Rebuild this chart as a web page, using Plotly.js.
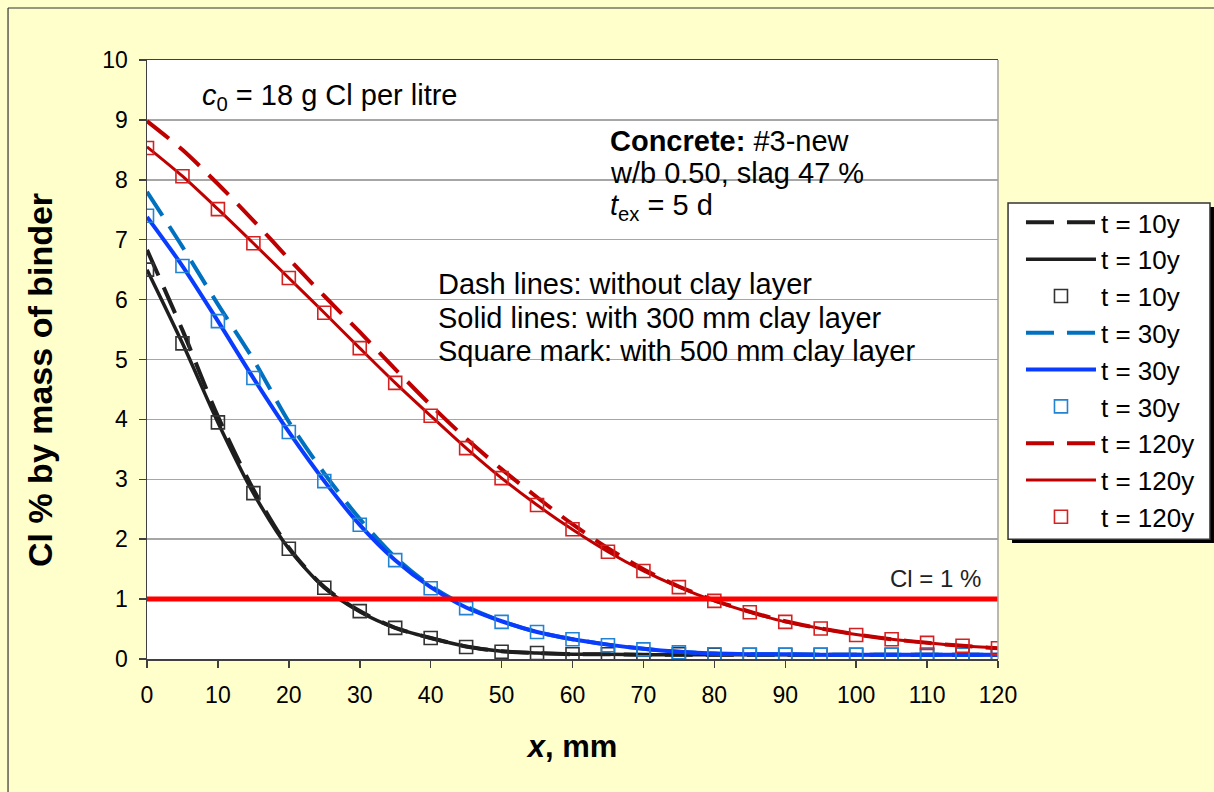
<!DOCTYPE html>
<html>
<head>
<meta charset="utf-8">
<script src="https://cdn.plot.ly/plotly-3.0.1.min.js"></script>
<style>
html,body{margin:0;padding:0;background:#FFFFCC;}
#chart{width:1214px;height:792px;}
</style>
</head>
<body>
<div id="chart"></div>
<script>
// depth x, mm
const depthX = [0,5,10,15,20,25,30,35,40,45,50,55,60,65,70,75,80,85,90,95,100,105,110,115,120];

// t = 10 y
const t10Dash   = [6.83,5.49,4.05,2.83,1.86,1.20,0.80,0.52,0.35,0.21,0.13,0.10,0.08,0.08,0.07,0.07,0.07,0.07,0.07,0.07,0.07,0.07,0.07,0.07,0.07];
const t10Solid  = [6.50,5.27,3.95,2.77,1.84,1.19,0.79,0.52,0.35,0.21,0.13,0.10,0.08,0.08,0.07,0.07,0.07,0.07,0.07,0.07,0.07,0.07,0.07,0.07,0.07];
const t10Square = [6.50,5.27,3.95,2.77,1.84,1.19,0.80,0.52,0.35,0.20,0.12,0.10,0.08,0.08,0.08,0.08,0.07,0.07,0.07,0.07,0.07,0.07,0.07,0.07,0.07];

// t = 30 y
const t30Dash   = [7.80,6.88,5.92,5.00,3.96,3.10,2.34,1.70,1.22,0.88,0.63,0.45,0.33,0.24,0.17,0.12,0.09,0.08,0.08,0.07,0.07,0.07,0.07,0.07,0.07];
const t30Solid  = [7.38,6.56,5.64,4.69,3.79,2.97,2.24,1.65,1.20,0.86,0.63,0.45,0.33,0.24,0.17,0.12,0.09,0.08,0.08,0.07,0.07,0.07,0.07,0.07,0.07];
const t30Square = [7.40,6.56,5.64,4.69,3.79,2.97,2.24,1.65,1.18,0.85,0.62,0.45,0.33,0.23,0.16,0.11,0.08,0.07,0.07,0.07,0.07,0.07,0.07,0.07,0.07];

// t = 120 y
const t120Dash   = [8.98,8.50,7.93,7.32,6.68,6.06,5.46,4.84,4.24,3.68,3.17,2.70,2.25,1.85,1.50,1.21,0.98,0.79,0.63,0.51,0.41,0.33,0.27,0.22,0.18];
const t120Solid  = [8.55,8.06,7.51,6.94,6.36,5.78,5.19,4.61,4.06,3.52,3.02,2.57,2.16,1.79,1.47,1.20,0.97,0.78,0.62,0.51,0.41,0.33,0.27,0.22,0.18];
const t120Square = [8.53,8.06,7.51,6.94,6.36,5.78,5.19,4.61,4.06,3.52,3.02,2.57,2.165,1.79,1.47,1.20,0.97,0.78,0.62,0.51,0.40,0.33,0.27,0.22,0.18];

// Cl = 1 % limit
const limitX = [0,120];
const limitY = [1,1];

const legendNames = ["t = 10y","t = 10y","t = 10y","t = 30y","t = 30y","t = 30y","t = 120y","t = 120y","t = 120y"];
const xTicks = [0,10,20,30,40,50,60,70,80,90,100,110,120];
const yTicks = [0,1,2,3,4,5,6,7,8,9,10];

const DASH = "28px,13px";
const FONT = "Liberation Sans, Arial, sans-serif";

function lineTrace(y, name, color, width, dash, grp){
  return {x: depthX, y: y, name: name, type: "scatter", mode: "lines",
    line: {color: color, width: width, dash: dash, shape: "spline", smoothing: 0.8},
    legendgroup: grp, hoverinfo: "x+y"};
}
function squareTrace(y, name, color, grp){
  return {x: depthX, y: y, name: name, type: "scatter", mode: "markers",
    marker: {symbol: "square-open", size: 13, color: color, line: {color: color, width: 1.6}},
    legendgroup: grp, hoverinfo: "x+y"};
}

const data = [
  lineTrace(t10Dash, legendNames[0], "#1e1e1e", 4, DASH, "g1"),
  lineTrace(t10Solid, legendNames[1], "#1e1e1e", 3.5, "solid", "g2"),
  squareTrace(t10Square, legendNames[2], "#333333", "g3"),
  lineTrace(t30Dash, legendNames[3], "#0070C0", 4, DASH, "g4"),
  lineTrace(t30Solid, legendNames[4], "#0A3CFF", 4, "solid", "g5"),
  squareTrace(t30Square, legendNames[5], "#2383D3", "g6"),
  lineTrace(t120Dash, legendNames[6], "#C00000", 4, DASH, "g7"),
  lineTrace(t120Solid, legendNames[7], "#C00000", 3, "solid", "g8"),
  squareTrace(t120Square, legendNames[8], "#D42222", "g9"),
  {x: limitX, y: limitY, type: "scatter", mode: "lines", showlegend: false,
   line: {color: "#FF0000", width: 5}, hoverinfo: "skip"}
];

const annFont = {family: FONT, size: 29, color: "#000"};
const layout = {
  width: 1214, height: 792,
  paper_bgcolor: "#FFFFCC",
  plot_bgcolor: "#FFFFFF",
  margin: {l: 147, r: 216, t: 60, b: 133, pad: 0},
  font: {family: FONT, color: "#000"},
  showlegend: true,
  xaxis: {
    range: [0, 120], tickvals: xTicks, ticktext: xTicks.map(String),
    showgrid: false, zeroline: false,
    showline: true, linecolor: "#404040", linewidth: 1.5, mirror: true,
    ticks: "outside", ticklen: 7, tickwidth: 1.5, tickcolor: "#404040",
    tickfont: {family: FONT, size: 23, color: "#000"},
    ticklabelstandoff: 8,
    title: {text: "<b><i>x</i>, mm</b>", font: {family: FONT, size: 31, color: "#000"}, standoff: 28}
  },
  yaxis: {
    range: [0, 10], tickvals: yTicks, ticktext: yTicks.map(String),
    showgrid: true, gridcolor: "#A6A6A6", gridwidth: 1.5,
    zeroline: false,
    showline: true, linecolor: "#404040", linewidth: 1.5,
    ticks: "outside", ticklen: 7, tickwidth: 1.5, tickcolor: "#404040",
    tickfont: {family: FONT, size: 23, color: "#000"},
    ticklabelstandoff: 6
  },
  legend: {
    x: 1.027, y: 0.768, xanchor: "left", yanchor: "top",
    bgcolor: "rgba(0,0,0,0)", borderwidth: 0,
    font: {family: FONT, size: 26, color: "#000"},
    itemwidth: 70, tracegroupgap: 5, traceorder: "normal"
  },
  shapes: [
    {type: "line", xref: "paper", yref: "paper", x0: -0.1633, x1: -0.1633, y0: -0.3, y1: 1.0868, line: {color: "#333", width: 1.2}},
    {type: "line", xref: "paper", yref: "paper", x0: -0.1633, x1: 1.3, y0: 1.0868, y1: 1.0868, line: {color: "#333", width: 1.2}},
    {type: "line", xref: "paper", yref: "paper", x0: 1, x1: 1, y0: 0, y1: 1, line: {color: "#A0A0A0", width: 1.5}},
    // legend shadow and box
    {type: "rect", xref: "paper", yref: "paper", x0: 1.0165, x1: 1.2538, y0: 0.1937, y1: 0.7546, fillcolor: "#000", line: {width: 0}, layer: "above"},
    {type: "rect", xref: "paper", yref: "paper", x0: 1.0118, x1: 1.2491, y0: 0.2000, y1: 0.7613, fillcolor: "#FFFFFF", line: {color: "#333", width: 1.5}, layer: "above"}
  ],
  annotations: [
    {xref: "paper", yref: "paper", x: -0.1257, y: 0.4658, xanchor: "center", yanchor: "middle", showarrow: false, textangle: -90,
     font: {family: FONT, size: 34, color: "#000"}, text: "<b>Cl % by mass of binder</b>"},
    {xref: "x", yref: "y", x: 7.47, y: 9.38, xanchor: "left", yanchor: "middle", showarrow: false, font: annFont,
     text: "<i>c</i><sub>0</sub> = 18 g Cl per litre"},
    {xref: "x", yref: "y", x: 65.0, y: 8.648, xanchor: "left", yanchor: "middle", showarrow: false, font: annFont,
     text: "<b>Concrete:</b> #3-new"},
    {xref: "x", yref: "y", x: 65.0, y: 8.113, xanchor: "left", yanchor: "middle", showarrow: false, font: annFont,
     text: "w/b 0.50, slag 47 %"},
    {xref: "x", yref: "y", x: 65.0, y: 7.546, xanchor: "left", yanchor: "middle", showarrow: false, font: annFont,
     text: "<i>t</i><sub>ex</sub> = 5 d"},
    {xref: "x", yref: "y", x: 40.75, y: 6.26, xanchor: "left", yanchor: "middle", showarrow: false, font: annFont,
     text: "Dash lines: without clay layer"},
    {xref: "x", yref: "y", x: 40.75, y: 5.69, xanchor: "left", yanchor: "middle", showarrow: false, font: annFont,
     text: "Solid lines: with 300 mm clay layer"},
    {xref: "x", yref: "y", x: 40.75, y: 5.14, xanchor: "left", yanchor: "middle", showarrow: false, font: annFont,
     text: "Square mark: with 500 mm clay layer"},
    {xref: "x", yref: "y", x: 117.9, y: 1.352, xanchor: "right", yanchor: "middle", showarrow: false,
     font: {family: FONT, size: 24, color: "#222"}, text: "Cl = 1 %"}
  ]
};

Plotly.newPlot("chart", data, layout, {displayModeBar: false, staticPlot: true});
</script>
</body>
</html>
